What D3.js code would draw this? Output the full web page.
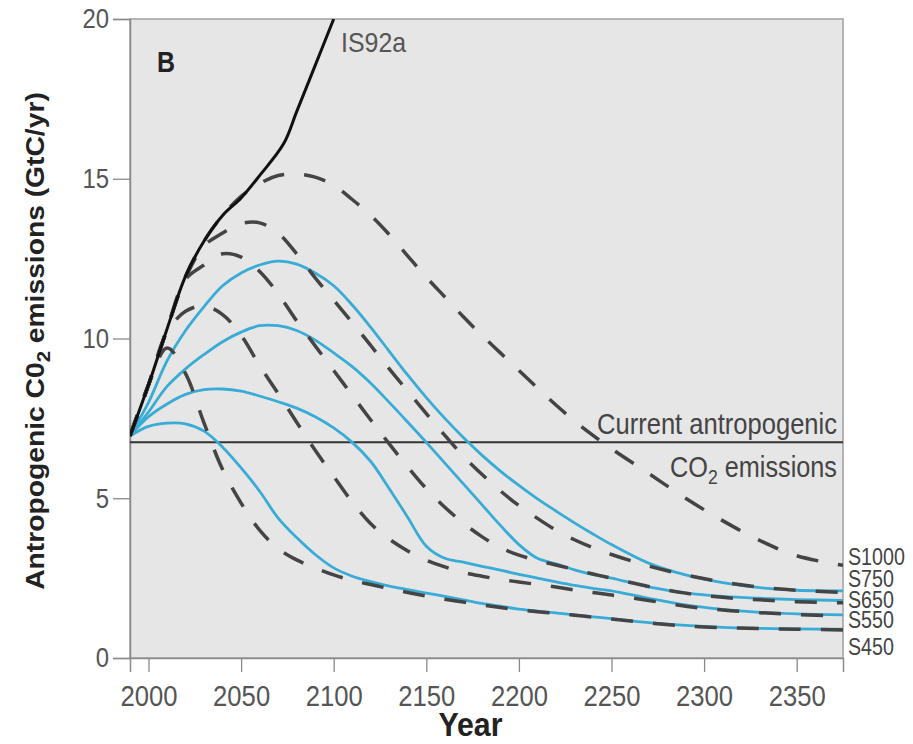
<!DOCTYPE html>
<html>
<head>
<meta charset="utf-8">
<script src="https://cdn.jsdelivr.net/npm/d3@7"></script>
<style>
  body { margin: 0; background: #fff; }
  text { font-family: "Liberation Sans", Arial, sans-serif; }
</style>
</head>
<body>
<div id="myChart"></div>
<script>
// sample years shared by all stabilisation scenarios
const years = [1990, 2000, 2010, 2020, 2030, 2040, 2050, 2060, 2070, 2080,
    2090, 2100, 2110, 2120, 2130, 2140, 2150, 2160, 2170, 2180,
    2190, 2200, 2210, 2220, 2230, 2240, 2250, 2270, 2290, 2310, 2330, 2350, 2375];

// IS92a business as usual (black)
const is92aYears = [1990, 2000, 2010, 2020, 2030, 2040, 2050, 2060, 2073, 2080, 2090, 2100];
const is92aValues = [6.95, 8.55, 10.3, 11.95, 13.05, 13.85, 14.4, 15.1, 16.1, 17.1, 18.55, 20.0];

// dashed scenarios (GtC/yr)
const dashS1000 = [6.95, 8.55, 10.3, 11.95, 13.05, 13.85, 14.45, 14.85, 15.1, 15.15,
    15.05, 14.8, 14.35, 13.85, 13.25, 12.58, 11.92, 11.3, 10.68, 10.1,
    9.55, 9.0, 8.45, 7.92, 7.42, 6.97, 6.55, 5.78, 5.0, 4.3, 3.68, 3.2, 2.9];
const dashS750 = [6.95, 8.55, 10.3, 11.9, 12.9, 13.3, 13.6, 13.62, 13.3, 12.65,
    11.9, 11.2, 10.5, 9.78, 9.05, 8.35, 7.65, 6.97, 6.32, 5.75,
    5.23, 4.77, 4.37, 4.0, 3.7, 3.45, 3.24, 2.88, 2.6, 2.38, 2.22, 2.12, 2.05];
const dashS650 = [6.95, 8.55, 10.3, 11.85, 12.3, 12.65, 12.55, 12.1, 11.4, 10.55,
    9.77, 9.0, 8.22, 7.45, 6.7, 5.98, 5.3, 4.72, 4.22, 3.8,
    3.45, 3.22, 3.05, 2.91, 2.77, 2.63, 2.5, 2.24, 2.03, 1.9, 1.82, 1.76, 1.73];
const dashS550 = [6.95, 8.55, 10.2, 10.85, 11.02, 10.75, 10.1, 9.15, 8.28, 7.38,
    6.5, 5.68, 4.88, 4.2, 3.72, 3.35, 3.06, 2.85, 2.68, 2.56,
    2.46, 2.38, 2.3, 2.22, 2.13, 2.05, 1.97, 1.8, 1.62, 1.5, 1.42, 1.36, 1.31];
const dashS450 = [6.95, 8.55, 9.7, 8.9, 7.35, 5.9, 4.85, 4.0, 3.42, 3.07,
    2.82, 2.6, 2.43, 2.3, 2.17, 2.05, 1.94, 1.84, 1.75, 1.66,
    1.58, 1.51, 1.45, 1.4, 1.34, 1.28, 1.22, 1.1, 1.0, 0.95, 0.92, 0.9, 0.88];

// solid blue scenarios
const blueS750 = [6.95, 8.0, 9.3, 10.25, 11.0, 11.65, 12.05, 12.3, 12.42, 12.33,
    12.05, 11.65, 11.05, 10.35, 9.6, 8.85, 8.15, 7.5, 6.9, 6.35,
    5.85, 5.4, 4.98, 4.6, 4.23, 3.88, 3.55, 2.97, 2.6, 2.36, 2.2, 2.12, 2.1];
const blueS650 = [6.95, 7.7, 8.5, 9.05, 9.5, 9.9, 10.2, 10.4, 10.4, 10.25,
    9.95, 9.55, 9.12, 8.6, 8.0, 7.38, 6.75, 6.1, 5.45, 4.8,
    4.15, 3.55, 3.12, 2.95, 2.76, 2.61, 2.5, 2.23, 2.04, 1.93, 1.87, 1.83, 1.8];
const blueS550 = [6.95, 7.55, 7.95, 8.25, 8.4, 8.42, 8.35, 8.2, 8.02, 7.82,
    7.55, 7.2, 6.75, 6.15, 5.3, 4.4, 3.5, 3.12, 3.0, 2.87,
    2.75, 2.62, 2.5, 2.38, 2.27, 2.18, 2.1, 1.87, 1.66, 1.52, 1.43, 1.38, 1.35];
const blueS450 = [6.95, 7.25, 7.35, 7.33, 7.1, 6.6, 5.95, 5.22, 4.38, 3.77,
    3.24, 2.82, 2.56, 2.39, 2.25, 2.14, 2.03, 1.93, 1.82, 1.71,
    1.62, 1.53, 1.47, 1.41, 1.35, 1.29, 1.23, 1.11, 1.02, 0.96, 0.93, 0.91, 0.9];

const currentEmissions = 6.75;

const xTicks = [2000, 2050, 2100, 2150, 2200, 2250, 2300, 2350];
const yTicks = [0, 5, 10, 15, 20];

// right hand scenario labels and the value they sit at
const endLabels = ["S1000", "S750", "S650", "S550", "S450"];
const endLabelValues = [2.9, 2.22, 1.56, 0.94, 0.09];

let margin = { top: 19, right: 70, bottom: 86, left: 130 },
    width = 913 - margin.left - margin.right,
    height = 744 - margin.top - margin.bottom;

let svg = d3.select('#myChart')
    .append('svg')
    .attr('width', 913)
    .attr('height', 744)
    .append('g')
    .attr("transform", "translate(" + margin.left + "," + margin.top + ")");

let x = d3.scaleLinear().domain([1990, 2375]).range([0, width]);
let y = d3.scaleLinear().domain([0, 20]).range([height, 0]);

// squeeze a text horizontally around its anchor (the original uses a condensed face)
function squeeze(sel, sx) {
    sel.each(function () {
        let t = d3.select(this);
        let x0 = +t.attr("x") || 0, y0 = +t.attr("y") || 0;
        t.attr("x", 0).attr("y", 0)
            .attr("transform", "translate(" + x0 + "," + y0 + ") scale(" + sx + ",1)");
    });
}
// squeeze a text so that it takes the given width
function fitWidth(sel, w) {
    let len = sel.node().getComputedTextLength();
    squeeze(sel, w / len);
}

// plot background
svg.append("rect")
    .attr("width", width)
    .attr("height", height)
    .attr("fill", "#e6e6e6")
    .attr("stroke", "#a0a0a0")
    .attr("stroke-width", 1.5);

// axes
let xAxis = svg.append("g")
    .attr("transform", "translate(0," + height + ")")
    .call(d3.axisBottom(x).tickValues(xTicks).tickFormat(d3.format("d")).tickSize(14).tickPadding(13));
let yAxis = svg.append("g")
    .call(d3.axisLeft(y).tickValues(yTicks).tickSize(17).tickPadding(4));

[xAxis, yAxis].forEach(function (a) {
    a.select(".domain").attr("stroke", "#8a8a8a").attr("stroke-width", 1.5);
    a.selectAll(".tick line").attr("stroke", "#8a8a8a").attr("stroke-width", 1.3);
    a.selectAll(".tick text").attr("fill", "#555");
});
xAxis.selectAll(".tick text").style("font-size", "30px").call(squeeze, 0.855);
yAxis.selectAll(".tick text").style("font-size", "28px").call(squeeze, 0.855);

// clip region for the curves
svg.append("clipPath").attr("id", "plotClip")
    .append("rect").attr("width", width).attr("height", height);

let plot = svg.append("g").attr("clip-path", "url(#plotClip)");

let line = d3.line()
    .x(function (d) { return x(d[0]); })
    .y(function (d) { return y(d[1]); })
    .curve(d3.curveCatmullRom.alpha(0.5));

function pairs(xs, vs) {
    return xs.map(function (t, i) { return [t, vs[i]]; });
}

// current emissions line
plot.append("line")
    .attr("x1", 0).attr("x2", width)
    .attr("y1", y(currentEmissions)).attr("y2", y(currentEmissions))
    .attr("stroke", "#333")
    .attr("stroke-width", 2);

// blue solid curves
[blueS750, blueS650, blueS550, blueS450].forEach(function (vals) {
    plot.append("path")
        .attr("d", line(pairs(years, vals)))
        .attr("fill", "none")
        .attr("stroke", "#38acd6")
        .attr("stroke-width", 2.8);
});

// dashed curves
[dashS1000, dashS750, dashS650, dashS550, dashS450].forEach(function (vals) {
    plot.append("path")
        .attr("d", line(pairs(years, vals)))
        .attr("fill", "none")
        .attr("stroke", "#444")
        .attr("stroke-width", 3.5)
        .attr("stroke-dasharray", "22,20");
});

// IS92a
plot.append("path")
    .attr("d", line(pairs(is92aYears, is92aValues)))
    .attr("fill", "none")
    .attr("stroke", "#111")
    .attr("stroke-width", 3);

// annotations
svg.append("text")
    .attr("x", 27).attr("y", 53)
    .style("font-size", "29px").style("font-weight", "bold")
    .attr("fill", "#222")
    .text("B")
    .call(fitWidth, 18);

svg.append("text")
    .attr("x", x(2104)).attr("y", 33)
    .style("font-size", "28px")
    .attr("fill", "#555")
    .text("IS92a")
    .call(fitWidth, 65);

svg.append("text")
    .attr("x", width - 6).attr("y", y(currentEmissions) - 8)
    .attr("text-anchor", "end")
    .style("font-size", "30px")
    .attr("fill", "#444")
    .text("Current antropogenic")
    .call(fitWidth, 240);

let co2 = svg.append("text")
    .attr("x", width - 6).attr("y", y(currentEmissions) + 35)
    .attr("text-anchor", "end")
    .style("font-size", "30px")
    .attr("fill", "#444");
co2.append("tspan").text("CO");
co2.append("tspan").attr("dy", 7).style("font-size", "21px").text("2");
co2.append("tspan").attr("dy", -7).text(" emissions");
co2.call(fitWidth, 167);

svg.selectAll(".endlabel")
    .data(endLabels)
    .enter()
    .append("text")
    .attr("class", "endlabel")
    .attr("x", width + 5)
    .attr("y", function (d, i) { return y(endLabelValues[i]); })
    .style("font-size", "24px")
    .attr("fill", "#444")
    .text(function (d) { return d; })
    .call(squeeze, 0.82);

// axis titles
svg.append("text")
    .attr("x", width / 2 - 16)
    .attr("y", height + 78)
    .attr("text-anchor", "middle")
    .style("font-size", "33px").style("font-weight", "bold")
    .attr("fill", "#222")
    .text("Year")
    .call(fitWidth, 64);

let yt = svg.append("text")
    .attr("text-anchor", "middle")
    .style("font-size", "25px").style("font-weight", "bold")
    .attr("fill", "#222");
yt.append("tspan").text("Antropogenic C0");
yt.append("tspan").attr("dy", 6).style("font-size", "18px").text("2");
yt.append("tspan").attr("dy", -6).text(" emissions  (GtC/yr)");
let ytScale = 498 / yt.node().getComputedTextLength();
yt.attr("transform", "translate(" + (44 - margin.left) + "," + (341 - margin.top) + ") rotate(-90) scale(" + ytScale + ",1)");
</script>
</body>
</html>
